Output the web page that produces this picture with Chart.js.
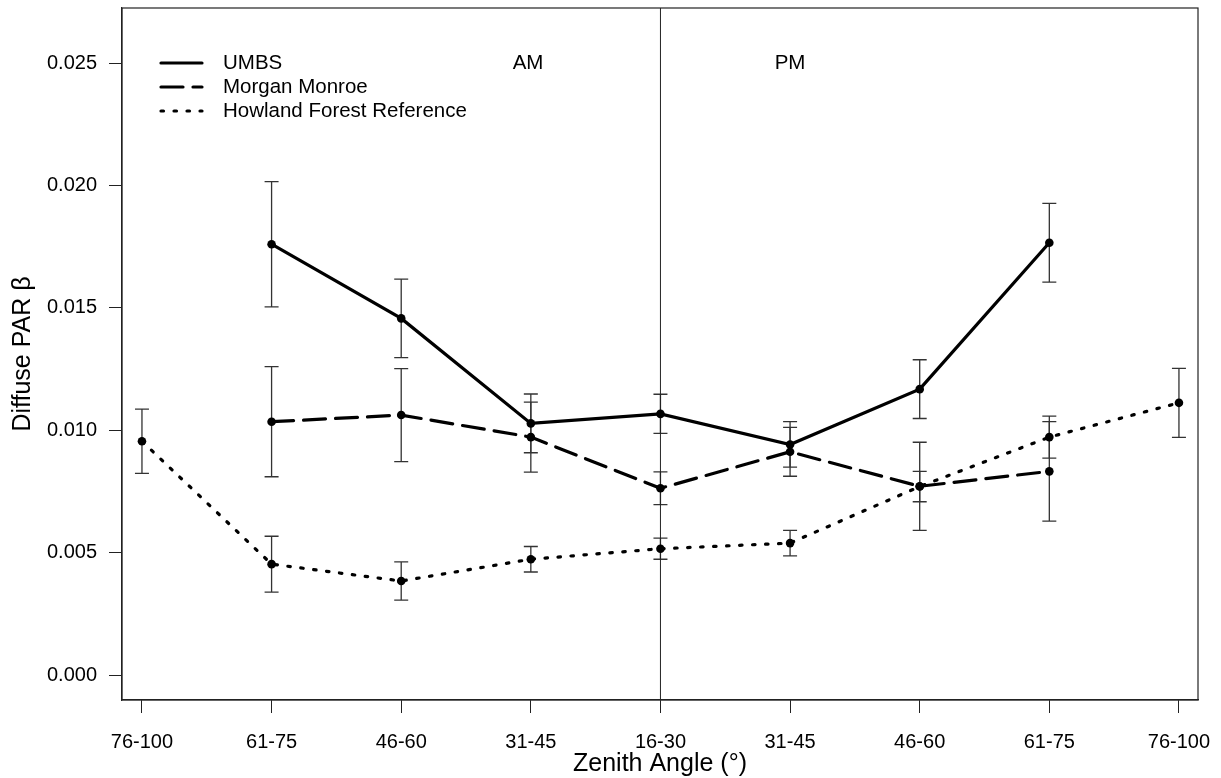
<!DOCTYPE html>
<html>
<head>
<meta charset="utf-8">
<title>Diffuse PAR β by zenith angle</title>
<script src="https://cdn.jsdelivr.net/npm/chart.js@4"></script>
<style>
  html, body { margin: 0; padding: 0; background: #fff; }
  #wrap { width: 1221px; height: 778px; }
</style>
</head>
<body>
<div id="wrap"><canvas id="chartBeta"></canvas></div>
<script>
// zenith angle classes, morning on the left, afternoon on the right
const zenithLabels = ["76-100", "61-75", "46-60", "31-45", "16-30", "31-45", "46-60", "61-75", "76-100"];
const yTicks = [0, 0.005, 0.010, 0.015, 0.020, 0.025];

const umbs     = [null, 0.01760, 0.01457, 0.01028, 0.01067, 0.00942, 0.01168, 0.01766, null];
const umbsErr  = [null, 0.00256, 0.00160, 0.00120, 0.00080, 0.00093, 0.00120, 0.00161, null];
const morgan   = [null, 0.01035, 0.01062, 0.00972, 0.00763, 0.00912, 0.00771, 0.00832, null];
const morganErr = [null, 0.00225, 0.00190, 0.00143, 0.00067, 0.00100, 0.00180, 0.00203, null];
const howland  = [0.00955, 0.00453, 0.00384, 0.00473, 0.00516, 0.00539, 0.00770, 0.00972, 0.01112];
const howlandErr = [0.00131, 0.00114, 0.00078, 0.00052, 0.00043, 0.00052, 0.00062, 0.00086, 0.00141];

const FONT = "'Liberation Sans', Arial, sans-serif";
const INK = "#222";

const toPoints = (vals) => vals.map((v, i) => ({ x: i, y: v }));

function series(label, vals, errs, dash) {
  return {
    label,
    data: toPoints(vals),
    errors: errs,
    borderColor: "#000",
    borderWidth: 3.2,
    borderDash: dash,
    borderCapStyle: "round",
    pointRadius: 4.3,
    pointBorderWidth: 0,
    pointBackgroundColor: "#000",
    spanGaps: false,
    tension: 0
  };
}

const datasets = [
  series("UMBS", umbs, umbsErr, []),
  series("Morgan Monroe", morgan, morganErr, [22, 10]),
  series("Howland Forest Reference", howland, howlandErr, [2.5, 10.5])
];

// error bars, the noon divider and the frame
const frameAndErrors = {
  id: "frameAndErrors",
  beforeDatasetsDraw(chart) {
    const { ctx, chartArea: a, scales: { x, y } } = chart;
    ctx.save();
    ctx.strokeStyle = "#333";
    ctx.lineWidth = 1.3;
    chart.data.datasets.forEach(ds => {
      ds.data.forEach((p, i) => {
        const e = ds.errors[i];
        if (p.y == null || e == null) return;
        const px = x.getPixelForValue(p.x);
        const top = y.getPixelForValue(p.y + e);
        const bot = y.getPixelForValue(p.y - e);
        ctx.beginPath();
        ctx.moveTo(px, top); ctx.lineTo(px, bot);
        ctx.moveTo(px - 7, top); ctx.lineTo(px + 7, top);
        ctx.moveTo(px - 7, bot); ctx.lineTo(px + 7, bot);
        ctx.stroke();
      });
    });
    // noon divider
    const mid = x.getPixelForValue(4);
    ctx.strokeStyle = INK;
    ctx.lineWidth = 1;
    ctx.beginPath();
    ctx.moveTo(mid, a.top); ctx.lineTo(mid, a.bottom);
    ctx.stroke();
    ctx.restore();
  },
  afterDraw(chart) {
    const { ctx, chartArea: a } = chart;
    ctx.save();
    ctx.strokeStyle = INK;
    ctx.lineWidth = 1.2;
    ctx.strokeRect(a.left, a.top, a.right - a.left, a.bottom - a.top);

    // legend
    ctx.font = `20.5px ${FONT}`;
    ctx.fillStyle = "#000";
    ctx.textBaseline = "middle";
    chart.data.datasets.forEach((ds, i) => {
      const ly = 63 + i * 24;
      ctx.strokeStyle = "#000";
      ctx.lineWidth = 3.2;
      ctx.lineCap = "round";
      ctx.setLineDash(ds.borderDash);
      ctx.beginPath();
      ctx.moveTo(161, ly); ctx.lineTo(202, ly);
      ctx.stroke();
      ctx.fillText(ds.label, 223, ly);
    });
    ctx.setLineDash([]);

    ctx.textAlign = "center";
    ctx.fillText("AM", 528, 63);
    ctx.fillText("PM", 790, 63);
    ctx.restore();
  }
};

new Chart(document.getElementById("chartBeta"), {
  type: "line",
  data: { datasets },
  options: {
    responsive: true,
    maintainAspectRatio: false,
    animation: false,
    layout: { padding: { left: 0, top: 8, right: 23, bottom: 0 } },
    plugins: { legend: { display: false }, tooltip: { enabled: false } },
    scales: {
      x: {
        type: "linear",
        min: -0.154,
        max: 8.147,
        afterBuildTicks: (s) => { s.ticks = zenithLabels.map((_, i) => ({ value: i })); },
        afterFit: (s) => { s.height = 78; s.paddingLeft = 0; s.paddingRight = 0; },
        ticks: {
          autoSkip: false,
          maxRotation: 0,
          padding: 17,
          color: "#000",
          font: { family: FONT, size: 20 },
          callback: (v) => zenithLabels[v]
        },
        grid: { drawOnChartArea: false, drawTicks: true, tickLength: 13, color: INK, lineWidth: 1 },
        border: { display: true, color: INK, width: 1.2 },
        title: {
          display: true,
          text: "Zenith Angle (°)",
          color: "#000",
          font: { family: FONT, size: 25, lineHeight: 1 },
          padding: { top: 0, bottom: 1 }
        }
      },
      y: {
        type: "linear",
        min: -0.00102,
        max: 0.02725,
        afterBuildTicks: (s) => { s.ticks = yTicks.map(v => ({ value: v })); },
        afterFit: (s) => { s.width = 122; s.paddingTop = 0; s.paddingBottom = 0; },
        ticks: {
          padding: 12,
          color: "#000",
          font: { family: FONT, size: 20 },
          callback: (v) => Number(v).toFixed(3)
        },
        grid: { drawOnChartArea: false, drawTicks: true, tickLength: 13, color: INK, lineWidth: 1 },
        border: { display: true, color: INK, width: 1.2 },
        title: {
          display: true,
          text: "Diffuse PAR β",
          color: "#000",
          font: { family: FONT, size: 25, lineHeight: 1 },
          padding: { top: 11, bottom: 0 }
        }
      }
    }
  },
  plugins: [frameAndErrors]
});
</script>
</body>
</html>
